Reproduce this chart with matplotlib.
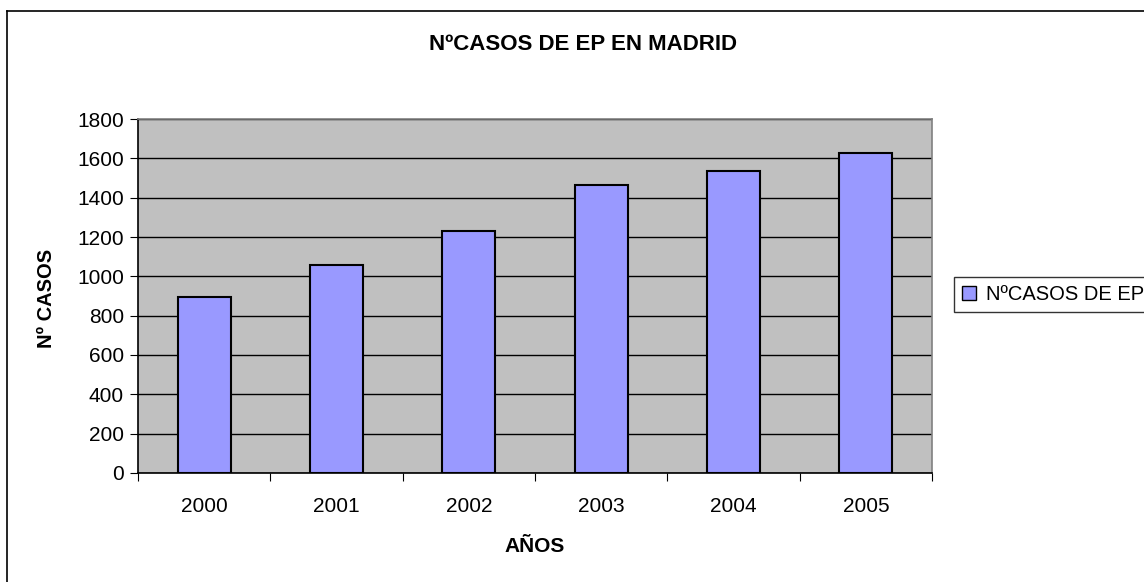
import numpy as np
import matplotlib
matplotlib.use('Agg')
import matplotlib.pyplot as plt
from matplotlib import ticker
from matplotlib.lines import Line2D
from matplotlib.patches import Patch

plt.rcParams['font.family'] = ['Liberation Sans', 'DejaVu Sans']

years = ['2000', '2001', '2002', '2003', '2004', '2005']
casos = [895, 1058, 1230, 1464, 1536, 1627]
serie = 'NºCASOS DE EP'

W, H = 1144, 582
fig = plt.figure(figsize=(W / 100, H / 100), dpi=100)

# outer chart border (clipped on right/bottom like the original)
fig.add_artist(Line2D([7 / W, 7 / W], [0, 1 - 11 / H], color='black', lw=1.2))
fig.add_artist(Line2D([7 / W, 1], [1 - 11 / H, 1 - 11 / H], color='black', lw=1.2))

ax = fig.add_axes([138 / W, 1 - 473 / H, (932 - 138) / W, (473 - 119) / H])
ax.set_facecolor('#C0C0C0')

x = np.arange(len(years))
ax.bar(x, casos, width=0.4, color='#9999FF', edgecolor='black', lw=1.5, zorder=3)

ax.set_xlim(-0.5, len(years) - 0.5)
ax.set_ylim(0, 1800)
ax.yaxis.set_major_locator(ticker.MultipleLocator(200))
ax.grid(axis='y', color='black', lw=1, zorder=1)
ax.set_axisbelow(True)

# category boundaries as major ticks, labels on minor ticks
ax.set_xticks(np.arange(-0.5, len(years)))
ax.set_xticklabels([])
ax.set_xticks(x, minor=True)
ax.set_xticklabels(years, minor=True)
ax.tick_params(axis='x', which='major', length=6, width=0.8, direction='out')
ax.tick_params(axis='x', which='minor', length=0, pad=17, labelsize=15)
ax.tick_params(axis='y', length=6, width=0.8, labelsize=15, pad=4)

for s in ['top', 'right']:
    ax.spines[s].set_color('#808080')
    ax.spines[s].set_linewidth(1.2)
for s in ['left', 'bottom']:
    ax.spines[s].set_color('black')
    ax.spines[s].set_linewidth(1.2)

fig.text(583 / W, 1 - 45 / H, 'NºCASOS DE EP EN MADRID', ha='center', va='center',
         fontsize=16, fontweight='bold')
fig.text(535 / W, 1 - 547 / H, 'AÑOS', ha='center', va='center',
         fontsize=15, fontweight='bold')
fig.text(46 / W, 1 - 298 / H, 'Nº CASOS', ha='center', va='center', rotation=90,
         fontsize=14.5, fontweight='bold')

handle = Patch(facecolor='#9999FF', edgecolor='black', lw=1)
leg = fig.legend([handle], [serie], loc='upper left',
                 bbox_to_anchor=(954 / W, 1 - 277 / H), fontsize=14.5,
                 frameon=True, fancybox=False, edgecolor='black',
                 handlelength=0.7, handleheight=0.7, handletextpad=0.5,
                 borderpad=0.4, borderaxespad=0)
leg.get_frame().set_linewidth(1)

fig.savefig('out.png', dpi=100)
